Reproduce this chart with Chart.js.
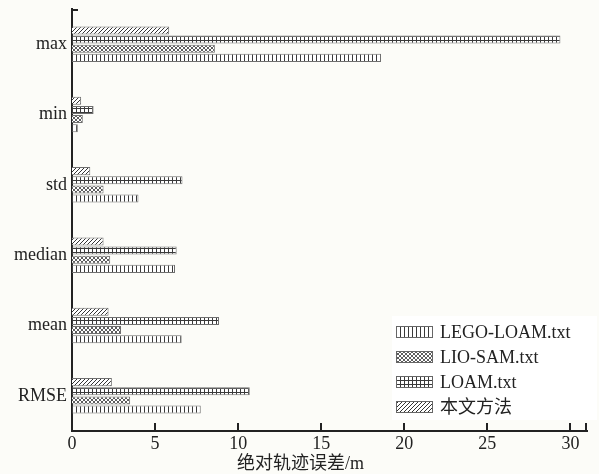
<!DOCTYPE html>
<html>
<head>
<meta charset="utf-8">
<script src="https://cdn.jsdelivr.net/npm/chart.js@4/dist/chart.umd.min.js"></script>
<style>
  html, body { margin: 0; padding: 0; background: #fcfcf8; }
  canvas { display: block; }
</style>
</head>
<body>
<canvas id="c" width="599" height="474"></canvas>
<script>
// Error statistics per method (metres)
const categories = ['max', 'min', 'std', 'median', 'mean', 'RMSE'];
const seriesNames = ['本文方法', 'LOAM.txt', 'LIO-SAM.txt', 'LEGO-LOAM.txt'];
const oursValues     = [5.85, 0.55, 1.1, 1.9, 2.2, 2.4];
const loamValues     = [29.4, 1.3, 6.65, 6.3, 8.85, 10.7];
const lioSamValues   = [8.6, 0.65, 1.9, 2.3, 2.95, 3.5];
const legoLoamValues = [18.6, 0.35, 4.0, 6.2, 6.6, 7.75];
const xTickStep = 5;
const xMax = 31;
const xAxisTitle = '绝对轨迹误差/m';

const SERIF = "'Liberation Serif', 'Noto Sans CJK SC', serif";

// Small repeating fill patterns for the monochrome bars
function makePattern(kind) {
  const s = 4;
  const t = document.createElement('canvas');
  t.width = s; t.height = s;
  const g = t.getContext('2d');
  g.fillStyle = '#ffffff';
  g.fillRect(0, 0, s, s);
  g.lineWidth = 1;
  g.beginPath();
  if (kind === 'diagonal') {
    g.strokeStyle = '#333';
    g.moveTo(0, s); g.lineTo(s, 0);
    g.moveTo(-1, 1); g.lineTo(1, -1);
    g.moveTo(s - 1, s + 1); g.lineTo(s + 1, s - 1);
  } else if (kind === 'grid') {
    g.strokeStyle = '#3a3a3a';
    g.moveTo(0.5, 0); g.lineTo(0.5, s);
    g.moveTo(0, 0.5); g.lineTo(s, 0.5);
  } else if (kind === 'cross') {
    g.strokeStyle = '#5e5e5e';
    g.moveTo(0, s); g.lineTo(s, 0);
    g.moveTo(0, 0); g.lineTo(s, s);
  } else {
    g.strokeStyle = '#3a3a3a';
    g.moveTo(0.5, 0); g.lineTo(0.5, s);
  }
  g.stroke();
  return g.createPattern(t, 'repeat');
}

const seriesValues = [oursValues, loamValues, lioSamValues, legoLoamValues];
const seriesFills = ['diagonal', 'grid', 'cross', 'vertical'];

const datasets = seriesNames.map((name, i) => ({
  label: name,
  data: seriesValues[i],
  backgroundColor: makePattern(seriesFills[i]),
  borderColor: '#6f6f6f',
  borderWidth: 1,
  categoryPercentage: 0.52,
  barPercentage: 0.88
}));

// Page background
const background = {
  id: 'background',
  beforeDraw(chart) {
    const ctx = chart.ctx;
    ctx.save();
    ctx.fillStyle = '#fcfcf8';
    ctx.fillRect(0, 0, chart.width, chart.height);
    ctx.restore();
  }
};

// Inward tick marks on the x axis, end caps on both axes, and the axis title
const axisMarks = {
  id: 'axisMarks',
  afterDraw(chart) {
    const ctx = chart.ctx;
    const x = chart.scales.x;
    const area = chart.chartArea;
    ctx.save();
    ctx.strokeStyle = '#222';
    ctx.lineWidth = 2;
    ctx.beginPath();
    x.ticks.forEach(t => {
      if (t.value === 0) return;
      const px = Math.round(x.getPixelForValue(t.value));
      ctx.moveTo(px, area.bottom);
      ctx.lineTo(px, area.bottom - 8);
    });
    ctx.moveTo(area.right - 1, area.bottom);
    ctx.lineTo(area.right - 1, area.bottom - 8);
    ctx.moveTo(area.left, area.top + 1);
    ctx.lineTo(area.left + 6, area.top + 1);
    ctx.stroke();

    ctx.fillStyle = '#222';
    ctx.font = '18px ' + SERIF;
    ctx.textAlign = 'center';
    ctx.textBaseline = 'middle';
    ctx.fillText(xAxisTitle, chart.width / 2 + 1, 464);
    ctx.restore();
  }
};

// Legend box with pattern swatches, listed bottom-up
const patternLegend = {
  id: 'patternLegend',
  afterDraw(chart) {
    const ctx = chart.ctx;
    ctx.save();
    ctx.fillStyle = '#ffffff';
    ctx.fillRect(392, 316, 205, 104);
    const items = chart.data.datasets.slice().reverse();
    ctx.font = '18px ' + SERIF;
    ctx.textBaseline = 'middle';
    items.forEach((d, k) => {
      const y = 332 + k * 25;
      ctx.fillStyle = d.backgroundColor;
      ctx.fillRect(396, y - 6, 37, 12);
      ctx.strokeStyle = '#666';
      ctx.lineWidth = 1;
      ctx.strokeRect(396.5, y - 5.5, 36, 11);
      ctx.fillStyle = '#222';
      ctx.fillText(d.label, 440, y + 1);
    });
    ctx.restore();
  }
};

new Chart(document.getElementById('c'), {
  type: 'bar',
  data: { labels: categories, datasets },
  plugins: [background, axisMarks, patternLegend],
  options: {
    indexAxis: 'y',
    responsive: false,
    animation: false,
    layout: { padding: { top: 9, right: 12, bottom: 0, left: 0 } },
    plugins: {
      legend: { display: false },
      tooltip: { enabled: false }
    },
    scales: {
      x: {
        type: 'linear',
        position: 'bottom',
        min: 0,
        max: xMax,
        afterFit(s) { s.height = 43; s.paddingLeft = 0; s.paddingRight = 0; },
        grid: { display: false, drawTicks: false },
        border: { display: true, color: '#222', width: 2 },
        ticks: {
          stepSize: xTickStep,
          includeBounds: false,
          maxRotation: 0,
          padding: 2,
          color: '#222',
          font: { family: SERIF, size: 18 }
        }
      },
      y: {
        type: 'category',
        afterFit(s) { s.width = 72; s.paddingTop = 0; s.paddingBottom = 0; },
        grid: { display: false, drawTicks: false },
        border: { display: true, color: '#222', width: 2 },
        ticks: {
          padding: 5,
          color: '#222',
          font: { family: SERIF, size: 18 }
        }
      }
    }
  }
});
</script>
</body>
</html>
